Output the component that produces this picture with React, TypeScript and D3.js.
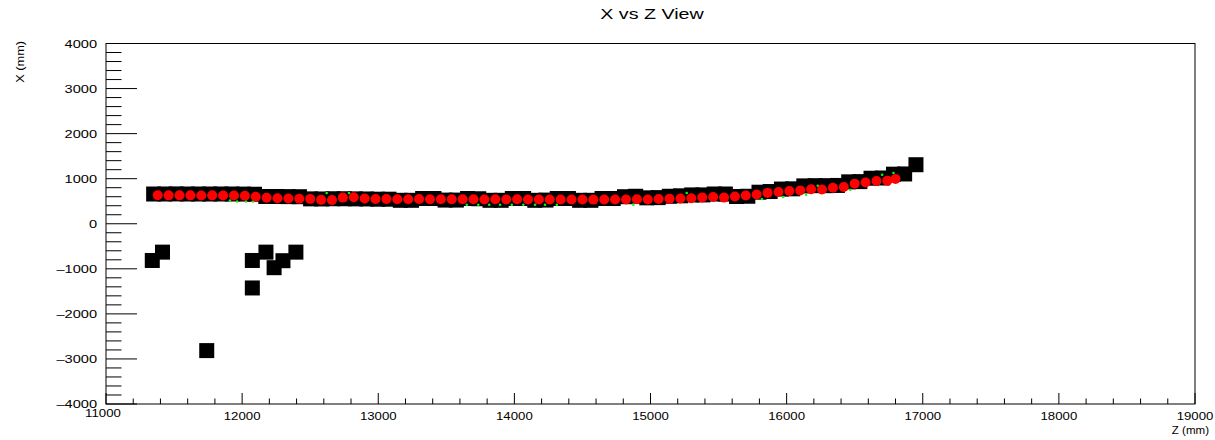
import React from "react";
import * as d3 from "d3";

const W = 1215;
const H = 440;

const titleText = "X vs Z View";
const xTitle = "Z (mm)";
const yTitle = "X (mm)";

const xMajorTicks = [11000, 12000, 13000, 14000, 15000, 16000, 17000, 18000, 19000];
const yMajorTicks = [-4000, -3000, -2000, -1000, 0, 1000, 2000, 3000, 4000];

// red reconstructed hits
const redZ = [
  11380, 11460, 11540, 11620, 11700, 11780, 11860, 11940, 12020, 12100, 12180, 12260, 12340, 12420,
  12500, 12580, 12660, 12740, 12820, 12900, 12980, 13060, 13140, 13220, 13300, 13380, 13460, 13540,
  13620, 13700, 13780, 13860, 13940, 14020, 14100, 14180, 14260, 14340, 14420, 14500, 14580, 14660,
  14740, 14820, 14900, 14980, 15060, 15140, 15220, 15300, 15380, 15460, 15540, 15620, 15700, 15780,
  15860, 15940, 16020, 16100, 16180, 16260, 16340, 16420, 16500, 16580, 16660, 16740, 16800,
];
const redX = [
  632, 630, 630, 630, 628, 630, 628, 626, 622, 600, 575, 565, 560, 555,
  552, 530, 525, 580, 590, 560, 548, 548, 545, 545, 548, 545, 543, 545,
  542, 545, 540, 542, 540, 542, 540, 538, 540, 538, 540, 538, 536, 540,
  538, 540, 542, 540, 548, 555, 560, 565, 585, 592, 580, 605, 625, 650,
  685, 705, 725, 740, 765, 760, 800, 815, 890, 915, 950, 955, 995,
];

// black hits along track
const blackZ = [
  11350, 11432, 11515, 11597, 11679, 11762, 11844, 11926, 12009, 12091, 12174, 12256,
  12338, 12421, 12503, 12585, 12668, 12750, 12832, 12915, 12997, 13079, 13162, 13244,
  13326, 13409, 13491, 13574, 13656, 13738, 13821, 13903, 13985, 14068, 14150, 14232,
  14315, 14397, 14479, 14562, 14644, 14726, 14809, 14891, 14973, 15056, 15138, 15221,
  15303, 15385, 15468, 15550, 15632, 15715, 15797, 15879, 15962, 16044, 16126, 16209,
  16291, 16373, 16456, 16538, 16620, 16703, 16785, 16867, 16950,
];
const blackX = [
  660, 660, 662, 660, 660, 660, 660, 660, 658, 655, 605, 605,
  602, 600, 552, 550, 555, 555, 552, 550, 545, 545, 520, 520,
  560, 560, 525, 525, 560, 555, 520, 520, 560, 560, 520, 525,
  560, 560, 520, 520, 560, 560, 600, 610, 575, 580, 610, 620,
  640, 640, 660, 660, 605, 610, 700, 715, 770, 775, 840, 845,
  845, 850, 930, 935, 1010, 1015, 1100, 1105, 1310,
];

// black outlier hits
const outZ = [11340, 11415, 11740, 12075, 12075, 12175, 12235, 12300, 12395];
const outX = [-815, -630, -2815, -815, -1425, -630, -975, -820, -630];

// green small markers
const greenZ = [
  11911, 11963, 12029, 12080, 12621, 12785, 13650, 13735, 13815, 13895, 13981, 14066,
  14152, 14225, 14312, 14874, 15266, 15818, 15975, 16143, 16229, 16467, 16702, 16785,
];
const greenX = [
  517, 495, 495, 495, 681, 681, 422, 422, 422, 422, 422, 422,
  422, 422, 422, 422, 681, 548, 592, 644, 843, 755, 1087, 1125,
];

const FL = 106;
const FR = 1195;
const FT = 43.5;
const FB = 404;

export default function App() {
  const x = d3.scaleLinear().domain([11000, 19000]).range([FL, FR]);
  const y = d3.scaleLinear().domain([-4000, 4000]).range([FB, FT]);
  const xMinor = x.ticks(40).filter((t) => !xMajorTicks.includes(t));
  const yMinor = y.ticks(40).filter((t) => !yMajorTicks.includes(t));
  const font = "'Liberation Sans', Arial, Helvetica, sans-serif";
  const sq = 15;
  const black = [...blackZ.map((z, i) => [z, blackX[i]]), ...outZ.map((z, i) => [z, outX[i]])];

  return (
    <svg
      width={W}
      height={H}
      style={{ position: "absolute", left: 0, top: 0, background: "#fff" }}
      fontFamily={font}
    >
      <rect x={0} y={0} width={W} height={H} fill="#fff" />
      {/* title */}
      <text
        transform={`translate(${(FL + FR) / 2 + 1.5},18.5) scale(1.27,1)`}
        textAnchor="middle"
        fontSize={15.5}
        fill="#000"
      >
        {titleText}
      </text>

      {/* data */}
      <g>
        {black.map(([z, v], i) => (
          <rect key={"b" + i} x={x(z) - sq / 2} y={y(v) - sq / 2} width={sq} height={sq} fill="#000" />
        ))}
      </g>
      <g>
        {greenZ.map((z, i) => (
          <circle key={"g" + i} cx={x(z)} cy={y(greenX[i])} r={1.3} fill="#00ff00" />
        ))}
      </g>
      <g>
        {redZ.map((z, i) => (
          <circle key={"r" + i} cx={x(z)} cy={y(redX[i])} r={5} fill="#ff0000" />
        ))}
      </g>

      {/* frame */}
      <rect x={FL} y={FT} width={FR - FL} height={FB - FT} fill="none" stroke="#000" strokeWidth={1} />

      {/* axis ticks */}
      <g stroke="#000" strokeWidth={1}>
        {xMajorTicks.map((t) => (
          <line key={"xM" + t} x1={x(t)} x2={x(t)} y1={FB} y2={FB - 11} />
        ))}
        {xMinor.map((t) => (
          <line key={"xm" + t} x1={x(t)} x2={x(t)} y1={FB} y2={FB - 5.5} />
        ))}
        {yMajorTicks.map((t) => (
          <line key={"yM" + t} x1={FL} x2={FL + 31} y1={y(t)} y2={y(t)} />
        ))}
        {yMinor.map((t) => (
          <line key={"ym" + t} x1={FL} x2={FL + 15.5} y1={y(t)} y2={y(t)} />
        ))}
      </g>

      {/* x tick labels */}
      {xMajorTicks.map((t) => (
        <text
          key={"xl" + t}
          transform={`translate(${x(t) - (t === 11000 ? 3 : 0)},${t === 11000 ? 416.5 : 419.5}) scale(1.15,1)`}
          textAnchor="middle"
          fontSize={11.5}
          fill="#000"
        >
          {t}
        </text>
      ))}
      {/* y tick labels */}
      {yMajorTicks.map((t) => (
        <text
          key={"yl" + t}
          transform={`translate(97,${y(t) + 4}) scale(1.27,1)`}
          textAnchor="end"
          fontSize={11.5}
          fill="#000"
        >
          {t < 0 ? "\u2013" + Math.abs(t) : String(t)}
        </text>
      ))}

      {/* axis titles */}
      <text
        transform={`translate(1209,434) scale(1.05,1)`}
        textAnchor="end"
        fontSize={11}
        fill="#000"
      >
        {xTitle}
      </text>
      <text
        transform={`translate(24,41) rotate(-90) scale(1.16,1)`}
        textAnchor="end"
        fontSize={11}
        fill="#000"
      >
        {yTitle}
      </text>
    </svg>
  );
}
